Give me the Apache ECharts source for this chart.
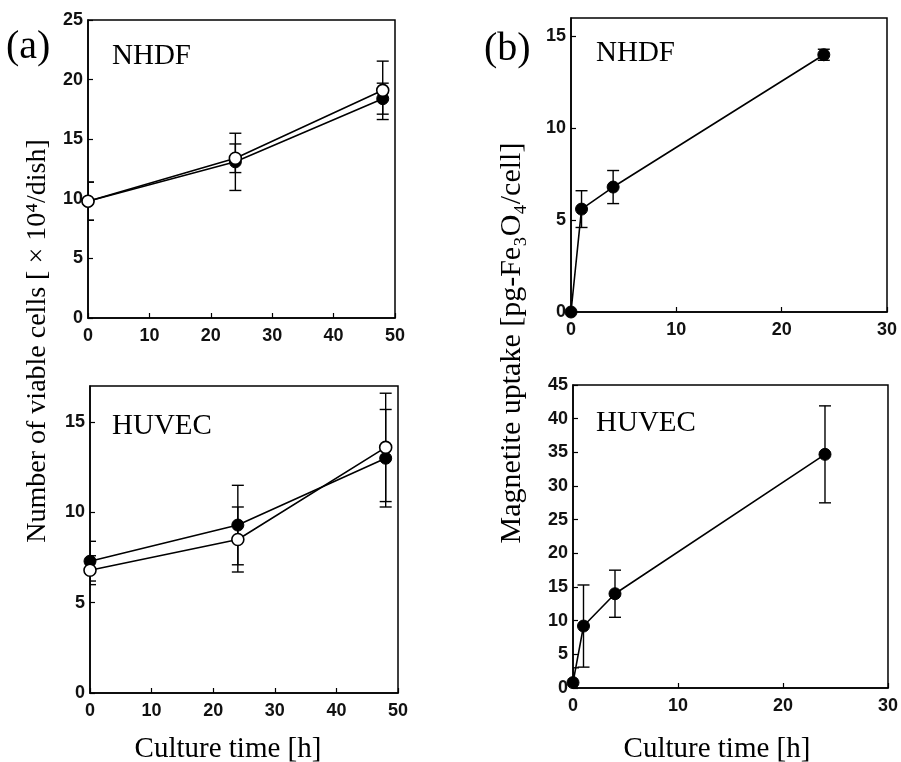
<!DOCTYPE html>
<html>
<head>
<meta charset="utf-8">
<script src="https://cdn.jsdelivr.net/npm/echarts@6/dist/echarts.min.js"></script>
<style>
  html, body { margin: 0; padding: 0; background: #fff; }
  #chart { width: 901px; height: 762px; }
</style>
</head>
<body>
<div id="chart"></div>
<script>
// culture time (h)
var timeA = [0, 24, 48];
var timeB = [0, 1, 4, 24];

// (a) number of viable cells, x10^4/dish
var nhdfFilled = [9.8, 13.1, 18.4];
var nhdfFilledErr = [1.6, 2.4, 1.3];
var nhdfOpen = [9.8, 13.4, 19.1];
var nhdfOpenErr = [1.6, 1.2, 2.45];
var huvecFilled = [7.3, 9.3, 13.0];
var huvecFilledErr = [1.1, 2.2, 2.7];
var huvecOpen = [6.8, 8.5, 13.6];
var huvecOpenErr = [0.8, 1.8, 3.0];

// (b) magnetite uptake, pg-Fe3O4/cell
var uptakeNhdf = [0, 5.6, 6.8, 14.0];
var uptakeNhdfErr = [0, 1.0, 0.9, 0.3];
var uptakeHuvec = [0.8, 9.2, 14.0, 34.7];
var uptakeHuvecErr = [2.2, 6.1, 3.5, 7.2];

var SERIF = '"Liberation Serif", "DejaVu Serif", serif';
var SANS = '"Liberation Sans", Arial, sans-serif';

var chart = echarts.init(document.getElementById('chart'));

function pairs(xs, ys) {
    var out = [];
    for (var i = 0; i < xs.length; i++) out.push([xs[i], ys[i]]);
    return out;
}
function errData(xs, ys, es) {
    var out = [];
    for (var i = 0; i < xs.length; i++) {
        if (es[i] > 0) out.push([xs[i], ys[i] - es[i], ys[i] + es[i]]);
    }
    return out;
}

// error bars
function errorSeries(idx, xs, ys, es) {
    return {
        type: 'custom',
        xAxisIndex: idx,
        yAxisIndex: idx,
        clip: true,
        z: 1,
        data: errData(xs, ys, es),
        renderItem: function (params, api) {
            var lo = api.coord([api.value(0), api.value(1)]);
            var hi = api.coord([api.value(0), api.value(2)]);
            var w = 6;
            var st = { stroke: '#000', lineWidth: 1.4 };
            return {
                type: 'group',
                children: [
                    { type: 'line', shape: { x1: lo[0], y1: lo[1], x2: hi[0], y2: hi[1] }, style: st },
                    { type: 'line', shape: { x1: lo[0] - w, y1: lo[1], x2: lo[0] + w, y2: lo[1] }, style: st },
                    { type: 'line', shape: { x1: hi[0] - w, y1: hi[1], x2: hi[0] + w, y2: hi[1] }, style: st }
                ]
            };
        }
    };
}

function lineSeries(idx, xs, ys, filled) {
    return {
        type: 'line',
        xAxisIndex: idx,
        yAxisIndex: idx,
        data: pairs(xs, ys),
        clip: false,
        z: filled ? 3 : 4,
        symbol: 'circle',
        symbolSize: 12,
        lineStyle: { color: '#000', width: 1.6 },
        itemStyle: filled ? { color: '#000', borderColor: '#000', borderWidth: 1 }
                          : { color: '#fff', borderColor: '#000', borderWidth: 1.6 },
        animation: false
    };
}

function xAxis(idx, max) {
    return {
        type: 'value',
        gridIndex: idx,
        min: 0, max: max, interval: 10,
        axisLine: { show: true, onZero: false, lineStyle: { color: '#000', width: 1.5 } },
        axisTick: { show: true, inside: true, length: 5, lineStyle: { color: '#000', width: 1.2 } },
        axisLabel: { color: '#111', fontFamily: SANS, fontSize: 18, fontWeight: 'bold', margin: 9 },
        splitLine: { show: false }
    };
}

function yAxis(idx, max, interval) {
    return {
        type: 'value',
        gridIndex: idx,
        min: 0, max: max, interval: interval,
        axisLine: { show: true, onZero: false, lineStyle: { color: '#000', width: 1.5 } },
        axisTick: { show: true, inside: true, length: 5, lineStyle: { color: '#000', width: 1.2 } },
        axisLabel: { color: '#111', fontFamily: SANS, fontSize: 18, fontWeight: 'bold', margin: 5,
                     showMaxLabel: max % interval === 0 },
        splitLine: { show: false }
    };
}

function label(x, y, text, size, align) {
    return {
        type: 'text', x: x, y: y,
        style: { text: text, font: size + 'px ' + SERIF, fill: '#000',
                 align: align || 'left', verticalAlign: 'middle' }
    };
}

var gridBox = { show: true, borderColor: '#000', borderWidth: 1.5, backgroundColor: 'transparent' };

var option = {
    backgroundColor: '#fff',
    animation: false,
    grid: [
        Object.assign({ left: 88, top: 20, width: 307, height: 298 }, gridBox),
        Object.assign({ left: 90, top: 386, width: 308, height: 307 }, gridBox),
        Object.assign({ left: 571, top: 18, width: 316, height: 294 }, gridBox),
        Object.assign({ left: 573, top: 385, width: 322, height: 303 }, gridBox)
    ],
    xAxis: [xAxis(0, 50), xAxis(1, 50), xAxis(2, 30), xAxis(3, 30)],
    yAxis: [yAxis(0, 25, 5), yAxis(1, 17, 5), yAxis(2, 16, 5), yAxis(3, 45, 5)],
    graphic: [
        label(6, 47, '(a)', 40),
        label(484, 49, '(b)', 40),
        label(112, 56, 'NHDF', 29),
        label(112, 426, 'HUVEC', 29),
        label(596, 53, 'NHDF', 29),
        label(596, 423, 'HUVEC', 29),
        label(228, 749, 'Culture time [h]', 29, 'center'),
        label(717, 749, 'Culture time [h]', 29, 'center'),
        {
            type: 'text', x: 38, y: 341, rotation: Math.PI / 2,
            style: { text: 'Number of viable cells [ × 10⁴/dish]', font: '28px ' + SERIF, fill: '#000',
                     align: 'center', verticalAlign: 'middle' }
        },
        {
            type: 'text', x: 512, y: 343, rotation: Math.PI / 2,
            style: { text: 'Magnetite uptake [pg-Fe₃O₄/cell]', font: '30px ' + SERIF, fill: '#000',
                     align: 'center', verticalAlign: 'middle' }
        }
    ],
    series: [
        errorSeries(0, timeA, nhdfFilled, nhdfFilledErr),
        errorSeries(0, timeA, nhdfOpen, nhdfOpenErr),
        lineSeries(0, timeA, nhdfFilled, true),
        lineSeries(0, timeA, nhdfOpen, false),
        errorSeries(1, timeA, huvecFilled, huvecFilledErr),
        errorSeries(1, timeA, huvecOpen, huvecOpenErr),
        lineSeries(1, timeA, huvecFilled, true),
        lineSeries(1, timeA, huvecOpen, false),
        errorSeries(2, timeB, uptakeNhdf, uptakeNhdfErr),
        lineSeries(2, timeB, uptakeNhdf, true),
        errorSeries(3, timeB, uptakeHuvec, uptakeHuvecErr),
        lineSeries(3, timeB, uptakeHuvec, true)
    ]
};
chart.setOption(option);
</script>
</body>
</html>
